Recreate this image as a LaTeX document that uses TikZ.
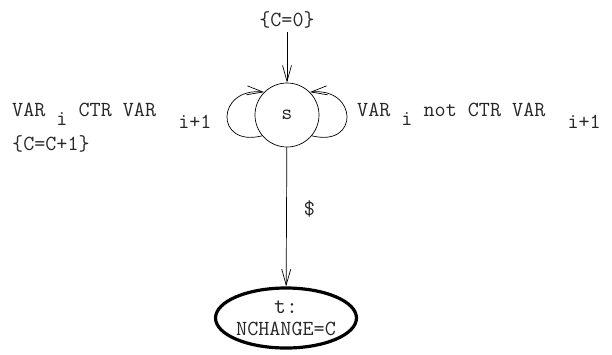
\documentclass[tikz,border=0pt]{standalone}
\usetikzlibrary{arrows.meta,calc,shapes.geometric}
\newcommand{\lowsub}[2][9pt]{\raisebox{-#1}{#2}}

\begin{document}
\begin{tikzpicture}[x=1pt,y=-1pt,
  arr/.style={-{Straight Barb[length=16pt,width=9pt]},line width=0.7pt},
  lbl/.style={font=\ttfamily\fontsize{21.5}{22}\selectfont,text=black!85,inner sep=0pt}]
\useasboundingbox (0,0) rectangle (612,354);

\node[lbl] (init) at (287,20) {\{C=0\}};
\node[lbl,draw,circle,minimum size=64pt,line width=0.7pt] (s) at (287,115) {s};
\node[lbl,draw,ellipse,minimum width=140pt,minimum height=60pt,line width=3.2pt,
  align=center] (t) at (286,318)
  {{\fontsize{23}{22}\selectfont t:}\\NCHANGE=C};

\node[lbl,anchor=base west] (ctr) at (12,116) {VAR \lowsub{i} CTR VAR\ \ \lowsub[12pt]{i+1}};
\node[lbl,anchor=base west] (cnt) at (12,150) {\{C=C+1\}};
\node[lbl,anchor=base west] (nctr) at (357,116) {VAR \lowsub{i} not CTR VAR\ \ \lowsub[12pt]{i+1}};

\draw[arr,shorten <=3pt] (init) -- (s);
\draw[arr] (s.220) .. controls ($(s.220)+(-48,12)$) and ($(s.135)+(-48,-5)$) .. (s.135);
\draw[arr] (s.320) .. controls ($(s.320)+(48,12)$) and ($(s.45)+(48,-5)$) .. (s.45);
\draw[arr] (s) -- node[lbl,pos=0.44,anchor=west,xshift=17pt] (dol) {\$} (t);

\end{tikzpicture}
\end{document}
